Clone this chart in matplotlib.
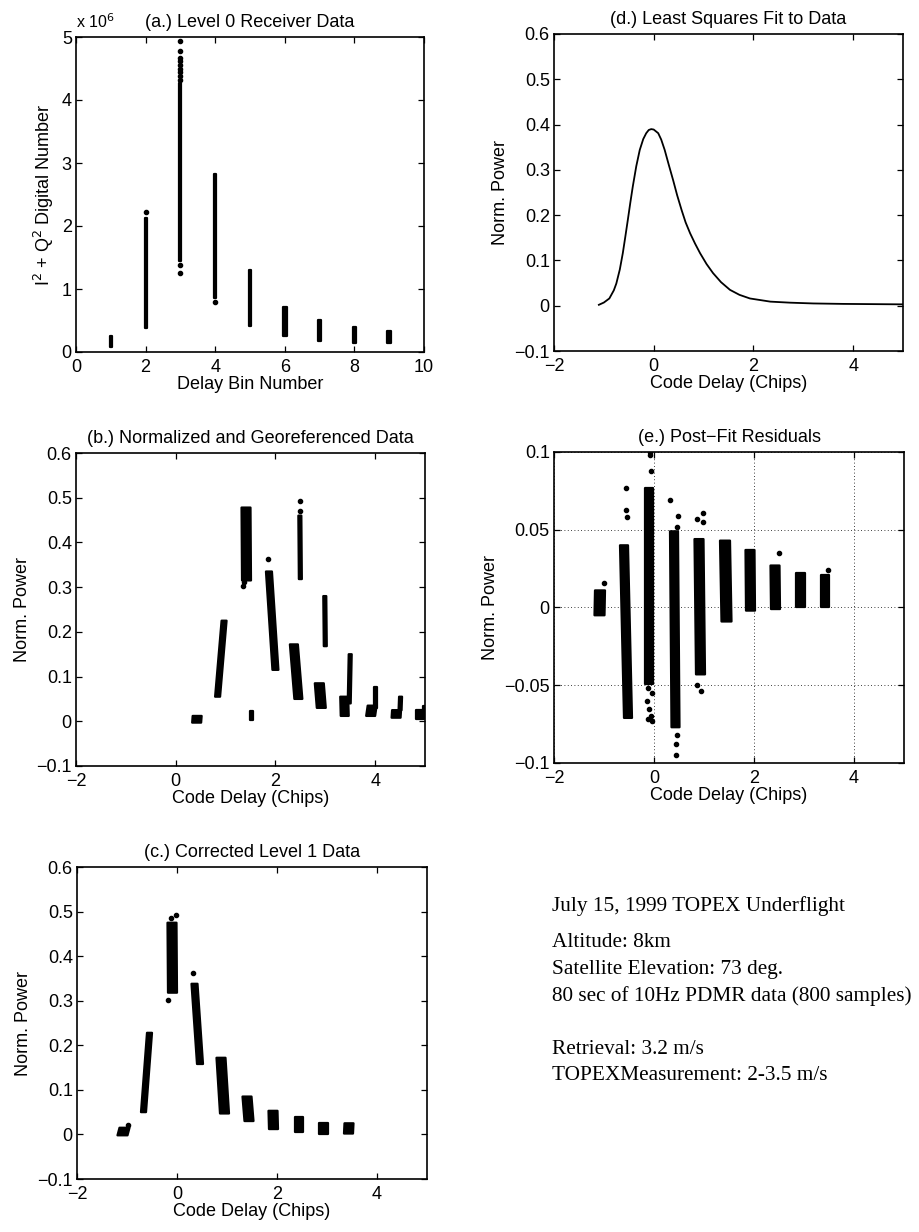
import matplotlib

matplotlib.use("Agg")
import matplotlib.pyplot as plt
from matplotlib.ticker import FuncFormatter

# ---- (a.) Level 0 receiver data: one column per delay bin (units of 1e6) ----
a_bin = [1, 2, 3, 4, 5, 6, 7, 8, 9]
a_lo = [0.08, 0.38, 1.45, 0.86, 0.42, 0.25, 0.17, 0.14, 0.14]
a_hi = [0.25, 2.12, 4.27, 2.82, 1.30, 0.71, 0.51, 0.40, 0.33]
a_hw = [0.03, 0.03, 0.03, 0.03, 0.04, 0.05, 0.05, 0.05, 0.05]
a_out_x = [2, 3, 3, 3, 3, 3, 3, 3, 3, 3, 3, 3, 4]
a_out_y = [2.22, 1.26, 1.38, 4.32, 4.38, 4.44, 4.50, 4.56, 4.62, 4.67, 4.78, 4.93, 0.79]

# ---- (b.) Normalized and georeferenced data: clusters (bottom -> top) ----
b_x_lo = [0.42, 0.84, 1.42, 1.52, 2.00, 2.50, 2.46, 3.00, 2.92, 3.48, 3.39, 3.91, 4.00, 4.42, 4.50, 4.90, 4.98]
b_y_lo = [-0.003, 0.055, 0.315, 0.002, 0.115, 0.318, 0.050, 0.168, 0.030, 0.040, 0.012, 0.012, 0.030, 0.008, 0.025, 0.005, 0.015]
b_x_hi = [0.43, 0.97, 1.41, 1.52, 1.87, 2.49, 2.37, 2.99, 2.88, 3.50, 3.38, 3.94, 4.00, 4.43, 4.51, 4.90, 4.98]
b_y_hi = [0.012, 0.225, 0.478, 0.022, 0.335, 0.460, 0.172, 0.280, 0.085, 0.150, 0.055, 0.035, 0.077, 0.025, 0.055, 0.025, 0.035]
b_hw = [0.09, 0.05, 0.09, 0.025, 0.06, 0.03, 0.08, 0.03, 0.09, 0.03, 0.08, 0.09, 0.03, 0.09, 0.03, 0.08, 0.03]
b_out_x = [1.34, 1.36, 1.85, 2.49, 2.49]
b_out_y = [0.302, 0.312, 0.362, 0.493, 0.470]

# ---- (c.) Corrected level 1 data ----
c_x_lo = [-1.09, -0.67, -0.09, 0.46, 0.95, 1.44, 1.93, 2.43, 2.93, 3.43]
c_y_lo = [-0.002, 0.050, 0.318, 0.158, 0.047, 0.030, 0.012, 0.005, 0.002, 0.002]
c_x_hi = [-1.05, -0.55, -0.10, 0.35, 0.88, 1.40, 1.92, 2.43, 2.93, 3.44]
c_y_hi = [0.015, 0.228, 0.475, 0.338, 0.172, 0.085, 0.053, 0.040, 0.025, 0.025]
c_hw = [0.10, 0.05, 0.09, 0.06, 0.09, 0.09, 0.09, 0.08, 0.09, 0.09]
c_out_x = [-0.18, -0.03, -0.12, 0.32, -0.99]
c_out_y = [0.302, 0.492, 0.485, 0.362, 0.021]

# ---- (d.) Least squares fit ----
d_x = [-1.10, -1.00, -0.89, -0.80, -0.75, -0.68, -0.62, -0.57, -0.52, -0.47, -0.42, -0.35,
       -0.28, -0.21, -0.15, -0.10, -0.05, 0.00, 0.09, 0.15, 0.22, 0.30, 0.39, 0.47, 0.56,
       0.64, 0.73, 0.83, 0.93, 1.06, 1.19, 1.35, 1.53, 1.72, 1.93, 2.34, 2.74, 3.20, 3.80,
       4.40, 5.00]
d_y = [0.002, 0.007, 0.016, 0.034, 0.049, 0.080, 0.116, 0.152, 0.189, 0.227, 0.263, 0.308,
       0.344, 0.368, 0.381, 0.388, 0.390, 0.389, 0.381, 0.367, 0.344, 0.312, 0.277, 0.244, 0.211,
       0.184, 0.160, 0.137, 0.116, 0.092, 0.072, 0.052, 0.035, 0.024, 0.016, 0.009, 0.0067, 0.005,
       0.004, 0.0035, 0.003]

# ---- (e.) Post-fit residuals ----
e_x_lo = [-1.09, -0.52, -0.10, 0.43, 0.93, 1.45, 1.93, 2.43, 2.93, 3.42]
e_y_lo = [-0.005, -0.071, -0.049, -0.077, -0.043, -0.009, -0.002, -0.001, 0.000, 0.000]
e_x_hi = [-1.08, -0.60, -0.10, 0.40, 0.90, 1.42, 1.92, 2.42, 2.93, 3.42]
e_y_hi = [0.011, 0.040, 0.077, 0.049, 0.044, 0.043, 0.037, 0.027, 0.022, 0.021]
e_hw = [0.10, 0.08, 0.08, 0.08, 0.09, 0.10, 0.09, 0.09, 0.09, 0.08]
e_out_x = [-1.00, -0.56, -0.57, -0.55, -0.07, -0.08, -0.09, -0.14, -0.05, -0.10, -0.13, -0.06,
           -0.04, -0.12, 0.32, 0.48, 0.46, 0.44, 0.44, 0.45, 0.98, 0.86, 0.97, 0.86, 0.94, 2.50,
           3.47]
e_out_y = [0.016, 0.077, 0.063, 0.058, 0.088, 0.098, 0.100, -0.060, -0.055, -0.065, -0.072, -0.070,
           -0.073, -0.052, 0.069, 0.059, 0.052, -0.088, -0.095, -0.082, 0.061, 0.057, 0.055, -0.050,
           -0.054, 0.035, 0.024]

info_lines = [
    ("July 15, 1999 TOPEX Underflight", 911),
    ("Altitude: 8km", 947),
    ("Satellite Elevation: 73 deg.", 974),
    ("80 sec of 10Hz PDMR data (800 samples)", 1001),
    ("Retrieval: 3.2 m/s", 1054),
    ("TOPEXMeasurement: 2-3.5 m/s", 1080),
]

plt.rcParams["font.family"] = ["Liberation Sans", "DejaVu Sans"]
FS = 13
W, H = 919, 1232


def fig_axes(fig, left, right, top, bottom):
    return fig.add_axes([left / W, 1 - bottom / H, (right - left) / W, (bottom - top) / H])


def tick_fmt(v, _pos):
    return f"{v:g}".replace("-", "\u2212")


def style(ax, xlim, ylim, xticks, yticks):
    ax.set_xlim(xlim)
    ax.set_ylim(ylim)
    ax.set_xticks(xticks)
    ax.set_yticks(yticks)
    ax.xaxis.set_major_formatter(FuncFormatter(tick_fmt))
    ax.yaxis.set_major_formatter(FuncFormatter(tick_fmt))
    ax.tick_params(direction="in", top=True, right=True, length=4, width=0.9, labelsize=FS, pad=3)
    ax.tick_params(axis="x", pad=5)
    for s in ax.spines.values():
        s.set_linewidth(1.2)


def draw_clusters(ax, x_lo, y_lo, x_hi, y_hi, hw):
    for x0, y0, x1, y1, w in zip(x_lo, y_lo, x_hi, y_hi, hw):
        ax.fill([x0 - w, x0 + w, x1 + w, x1 - w], [y0, y0, y1, y1],
                color="k", lw=1.6, joinstyle="round")


fig = plt.figure(figsize=(W / 100, H / 100), dpi=100)

# (a)
ax = fig_axes(fig, 76, 424, 37, 352)
draw_clusters(ax, a_bin, a_lo, a_bin, a_hi, a_hw)
ax.scatter(a_out_x, a_out_y, s=9, color="k", zorder=3)
style(ax, (0, 10), (0, 5), range(0, 11, 2), range(0, 6))
ax.set_title("(a.) Level 0 Receiver Data", fontsize=FS, pad=7)
ax.set_xlabel("Delay Bin Number", fontsize=FS, labelpad=0)
ax.set_ylabel("I$^2$ + Q$^2$ Digital Number", fontsize=FS, labelpad=4)
ax.text(0, 1.02, "x 10$^6$", transform=ax.transAxes, fontsize=11.5, ha="left", va="bottom")

code_xt = [-2, 0, 2, 4]
norm_yt = [-0.1, 0, 0.1, 0.2, 0.3, 0.4, 0.5, 0.6]

# (b)
ax = fig_axes(fig, 76, 425, 453, 766)
draw_clusters(ax, b_x_lo, b_y_lo, b_x_hi, b_y_hi, b_hw)
ax.scatter(b_out_x, b_out_y, s=9, color="k", zorder=3)
style(ax, (-2, 5), (-0.1, 0.6), code_xt, norm_yt)
ax.set_title("(b.) Normalized and Georeferenced Data", fontsize=FS, pad=7)
ax.set_xlabel("Code Delay (Chips)", fontsize=FS, labelpad=0)
ax.set_ylabel("Norm. Power", fontsize=FS)

# (c)
ax = fig_axes(fig, 77, 427, 867, 1179)
draw_clusters(ax, c_x_lo, c_y_lo, c_x_hi, c_y_hi, c_hw)
ax.scatter(c_out_x, c_out_y, s=9, color="k", zorder=3)
style(ax, (-2, 5), (-0.1, 0.6), code_xt, norm_yt)
ax.set_title("(c.) Corrected Level 1 Data", fontsize=FS, pad=7)
ax.set_xlabel("Code Delay (Chips)", fontsize=FS, labelpad=0)
ax.set_ylabel("Norm. Power", fontsize=FS)

# (d)
ax = fig_axes(fig, 554, 903, 34, 351)
ax.plot(d_x, d_y, color="k", lw=1.3)
style(ax, (-2, 5), (-0.1, 0.6), code_xt, norm_yt)
ax.set_title("(d.) Least Squares Fit to Data", fontsize=FS, pad=7)
ax.set_xlabel("Code Delay (Chips)", fontsize=FS, labelpad=0)
ax.set_ylabel("Norm. Power", fontsize=FS)

# (e)
ax = fig_axes(fig, 554, 904, 452, 763)
draw_clusters(ax, e_x_lo, e_y_lo, e_x_hi, e_y_hi, e_hw)
ax.scatter(e_out_x, e_out_y, s=9, color="k", zorder=3)
style(ax, (-2, 5), (-0.1, 0.1), code_xt, [-0.1, -0.05, 0, 0.05, 0.1])
ax.grid(True, linestyle=(0, (1, 3)), color="k", linewidth=0.6)
ax.set_axisbelow(True)
ax.set_title("(e.) Post\u2212Fit Residuals", fontsize=FS, pad=7)
ax.set_xlabel("Code Delay (Chips)", fontsize=FS, labelpad=0)
ax.set_ylabel("Norm. Power", fontsize=FS)

for txt, ypx in info_lines:
    fig.text(552 / W, 1 - ypx / H, txt, family=["Liberation Serif", "DejaVu Serif"],
             fontsize=15.3, ha="left", va="baseline")

fig.savefig("out.png", dpi=100)
